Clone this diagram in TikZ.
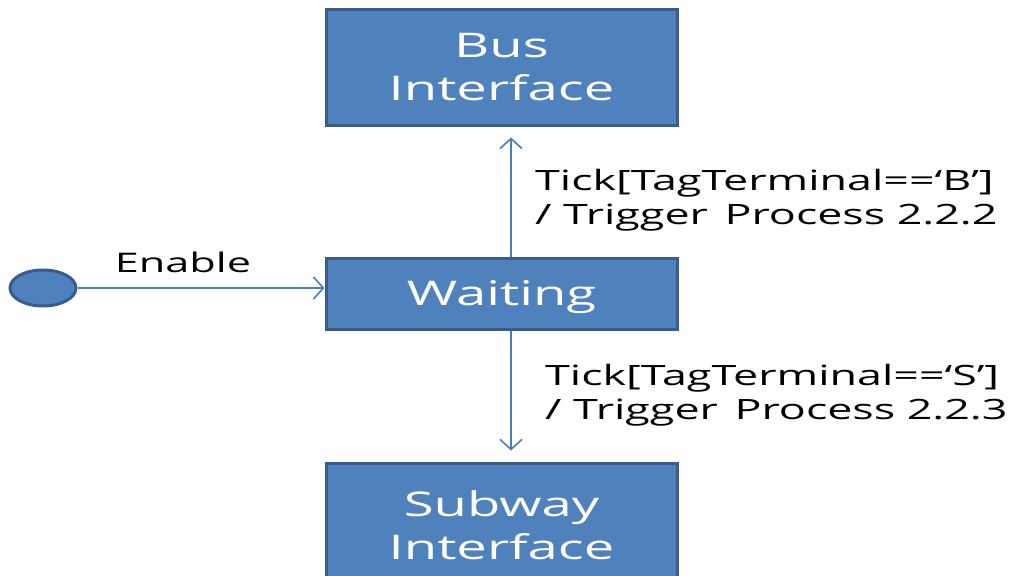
\documentclass[tikz,border=0pt]{standalone}
\usepackage{fontspec}
\setmainfont{Open Sans}[FakeStretch=1.6]
\usetikzlibrary{shapes.geometric,arrows.meta}
\definecolor{boxfill}{HTML}{4F81BD}
\definecolor{boxline}{HTML}{385D8A}
\definecolor{arrowc}{HTML}{4A7EBB}
\begin{document}
\begin{tikzpicture}[x=1pt,y=-1pt,
  state/.style={rectangle,draw=boxline,fill=boxfill,line width=3pt,
    minimum width=351pt,inner sep=0pt,text=white,align=center,
    text depth=0pt,font=\fontsize{34}{43}\selectfont},
  initial/.style={ellipse,draw=boxline,fill=boxfill,line width=3pt,
    minimum width=66pt,minimum height=36pt,inner sep=0pt},
  trans/.style={draw=arrowc,line width=1.6pt,
    -{Straight Barb[length=10pt,width=22pt,line width=1.6pt]}},
  lbl/.style={text=black,align=left,inner sep=0pt,
    font=\fontsize{28}{34}\selectfont}]
\useasboundingbox (0,0) rectangle (1013,576);
\node[state,minimum height=116pt] (bus) at (501.5,67) {Bus\\Interface};
\node[state,minimum height=71pt] (wait) at (501.5,293.5) {Waiting};
\node[state,minimum height=124pt] (sub) at (501.5,525) {Subway\\Interface};
\node[initial] (init) at (43,288) {};
\draw[trans] (init.east) -- (init.east -| wait.west);
\node[lbl,anchor=base] (en) at (183,272) {\fontsize{27}{30}\selectfont Enable};
\draw[trans,shorten >=11pt] ([xshift=9.5pt]wait.north) -- ([xshift=9.5pt]bus.south);
\draw[trans,shorten >=11pt] ([xshift=9.5pt]wait.south) -- ([xshift=9.5pt]sub.north);
\node[lbl,anchor=base west] (lb) at (535,224) {Tick[TagTerminal==‘B’]\\/ Trigger\hspace{5pt} Process 2.2.2};
\node[lbl,anchor=base west] (ls) at (545,419) {Tick[TagTerminal==‘S’]\\/ Trigger\hspace{5pt} Process 2.2.3};
\end{tikzpicture}
\end{document}
